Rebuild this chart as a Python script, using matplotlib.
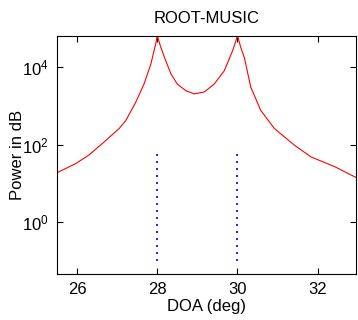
import matplotlib
matplotlib.use("Agg")
import matplotlib.pyplot as plt
from matplotlib.ticker import FixedLocator, NullLocator

plt.rcParams['font.family'] = ['Liberation Sans', 'DejaVu Sans']
plt.rcParams['mathtext.default'] = 'regular'

# spectrum (DOA in deg, power)
doa = [25.5, 25.97, 26.3, 26.64, 27.05, 27.22, 27.47, 27.67, 27.84, 27.97, 28.0,
       28.08, 28.18, 28.34, 28.5, 28.71, 28.92, 29.17, 29.42, 29.67, 29.88, 29.96, 30.0,
       30.08, 30.17, 30.33, 30.58, 30.92, 31.42, 31.83, 32.42, 32.95]
power = [19, 33, 55, 110, 263, 430, 1290, 3700, 12000, 44000, 66000,
         35000, 18000, 6800, 3700, 2500, 2070, 2300, 3700, 8100, 27000, 48000, 66000,
         33000, 18000, 3100, 775, 263, 98, 49, 27.5, 14.5]

# true source directions
true_doa = [28, 30]
marker_lo = 0.1
marker_hi = 73

fig = plt.figure(figsize=(3.58, 3.2), dpi=100)
ax = fig.add_axes([0.159, 0.144, 0.835, 0.745])

ax.semilogy(doa, power, color='red', lw=0.8)
ax.vlines(true_doa, marker_lo, marker_hi, colors='#0000ff', lw=1.2,
          linestyles=(0, (1.2, 3.0)))

ax.set_xlim(doa[0], doa[-1])
ax.set_ylim(0.047, max(power))
ax.set_xticks([26, 28, 30, 32])
ax.yaxis.set_major_locator(FixedLocator([1, 100, 10000]))
ax.yaxis.set_minor_locator(NullLocator())

ax.tick_params(direction='in', top=True, right=True, length=4, width=0.8,
               labelsize=12, pad=6)
for s in ax.spines.values():
    s.set_linewidth(0.8)

ax.set_title('ROOT-MUSIC', fontsize=12, pad=9)
ax.set_xlabel('DOA (deg)', fontsize=12, labelpad=1)
ax.set_ylabel('Power in dB', fontsize=12, labelpad=-2)

fig.savefig('out.png', dpi=100)
